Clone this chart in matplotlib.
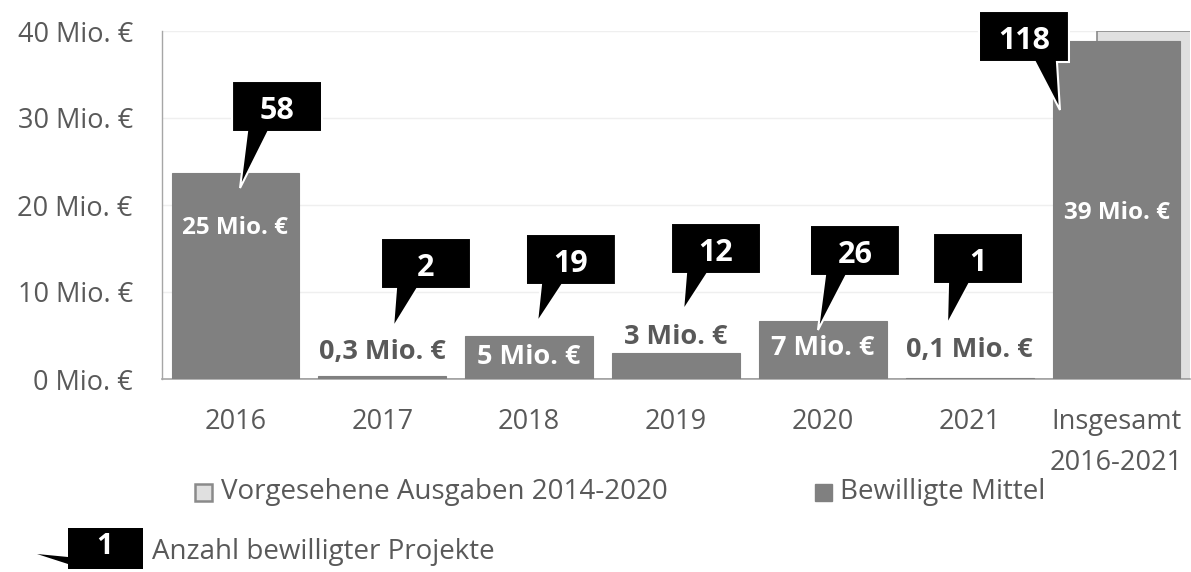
import matplotlib
matplotlib.use("Agg")
import matplotlib.pyplot as plt
from matplotlib.patches import Polygon, Rectangle

plt.rcParams['font.family'] = ['Open Sans', 'DejaVu Sans']

categories = ["2016", "2017", "2018", "2019", "2020", "2021", "Insgesamt\n2016-2021"]
bewilligt = [23.7, 0.3, 4.9, 3.0, 6.7, 0.1, 38.9]
vorgesehen = [0, 0, 0, 0, 0, 0, 40.0]
value_labels = ["25 Mio. €", "0,3 Mio. €", "5 Mio. €", "3 Mio. €", "7 Mio. €", "0,1 Mio. €", "39 Mio. €"]
projekte = ["58", "2", "19", "12", "26", "1", "118"]
yticks = [0, 10, 20, 30, 40]
ytick_labels = ["0 Mio. €", "10 Mio. €", "20 Mio. €", "30 Mio. €", "40 Mio. €"]

W, H = 1191, 572
fig = plt.figure(figsize=(W / 100, H / 100), dpi=100)
L, R, T, B = 162, 1190, 31, 379
ax = fig.add_axes([L / W, 1 - B / H, (R - L) / W, (B - T) / H])

TXT = '#595959'
BAR = '#808080'
n = len(categories)
x = list(range(n))
bw = 0.87
ax.set_xlim(-0.5, n - 0.5)
ax.set_ylim(0, 40)
sx = n / (R - L)        # data units per px (x)
sy = 40 / (B - T)       # data units per px (y)

# planned expenditure (only for total), offset right
ax.bar([xi + 0.30 for xi in x], vorgesehen, width=bw, color='#e0e0e0',
       edgecolor='#8a8a8a', linewidth=1.2, zorder=2)
ax.bar(x, bewilligt, width=bw, color=BAR, edgecolor=BAR, linewidth=0.8, zorder=3)

ax.set_yticks(yticks)
ax.set_yticklabels(ytick_labels)
ax.set_xticks(x)
ax.set_xticklabels(categories, linespacing=1.6, va='top')
ax.tick_params(axis='both', length=0, colors=TXT, labelsize=19.5)
ax.tick_params(axis='y', pad=21)
ax.tick_params(axis='x', pad=21)
for lab in ax.get_yticklabels() + ax.get_xticklabels():
    lab.set_color(TXT)
ax.grid(axis='y', color='#efefef', linewidth=1, zorder=0)
ax.set_axisbelow(True)
for s in ['top', 'right']:
    ax.spines[s].set_visible(False)
ax.spines['left'].set_color('#a6a6a6')
ax.spines['bottom'].set_color('#a6a6a6')
ax.spines['left'].set_linewidth(1)
ax.spines['bottom'].set_linewidth(1.2)

# value labels
label_inside = [True, False, True, False, True, False, True]
label_y_px = [228, 352, 357, 337, 348, 350, 213]
label_size = [17.5, 19.5, 19.5, 19.5, 19.5, 19.5, 17.5]
for i in range(n):
    yv = (B - label_y_px[i]) * sy
    col = 'white' if label_inside[i] else TXT
    ax.text(x[i], yv, value_labels[i], ha='center', va='center', color=col,
            fontsize=label_size[i], fontweight='bold', zorder=6)

# callouts (px offsets relative to bar centre / px rows)
box_left_off = [-3.4, -1.3, -3.2, -5, -12.9, -36.7, -137.6]
box_top = [81, 238, 234, 223, 225, 233, 11]
tip_off = [4.6, 10.7, 7.8, 7, -4.9, -22.7, -56.6]
tip_y = [188, 328, 323, 311, 330, 325, 110]
BW_PX, BH_PX = 90, 51
for i in range(n):
    bl = x[i] + box_left_off[i] * sx
    br = bl + BW_PX * sx
    bt = (B - box_top[i]) * sy
    bb = (B - box_top[i] - BH_PX) * sy
    tx = x[i] + tip_off[i] * sx
    ty = (B - tip_y[i]) * sy
    if i == n - 1:
        pts = [(bl, bt), (br, bt), (br, bb), (br - 12 * sx, bb), (tx, ty),
               (br - 34 * sx, bb), (bl, bb)]
    else:
        pts = [(bl, bt), (br, bt), (br, bb), (bl + 36 * sx, bb), (tx, ty),
               (bl + 15 * sx, bb), (bl, bb)]
    ax.add_patch(Polygon(pts, closed=True, facecolor='black', edgecolor='white',
                         linewidth=1.5, zorder=7, clip_on=False))
    ax.text((bl + br) / 2, (bt + bb) / 2 - 1 * sy, projekte[i], ha='center', va='center_baseline',
            color='white', fontsize=22, fontweight='bold', zorder=8, clip_on=False)

# legend
def px2fig(px, py):
    return px / W, 1 - py / H

lx, ly = px2fig(195, 501)
fig.patches.append(Rectangle((lx, ly), 17 / W, 17 / H, transform=fig.transFigure,
                             facecolor='#e0e0e0', edgecolor='#8a8a8a', linewidth=1.8))
tx_, ty_ = px2fig(221, 492)
fig.text(tx_, ty_, "Vorgesehene Ausgaben 2014-2020", color=TXT, fontsize=20, va='center', ha='left')
lx, ly = px2fig(815, 501)
fig.patches.append(Rectangle((lx, ly), 17 / W, 17 / H, transform=fig.transFigure,
                             facecolor=BAR, edgecolor=BAR, linewidth=1))
tx_, ty_ = px2fig(840, 492)
fig.text(tx_, ty_, "Bewilligte Mittel", color=TXT, fontsize=20, va='center', ha='left')

# callout legend
pts = [(68, 528), (143, 528), (143, 569), (68, 569), (68, 564), (37, 554), (68, 557)]
fig.patches.append(Polygon([px2fig(a, b) for a, b in pts], closed=True,
                           transform=fig.transFigure, facecolor='black', edgecolor='none'))
fx, fy = px2fig(105, 547)
fig.text(fx, fy, "1", color='white', fontsize=21, fontweight='bold', ha='center', va='center')
fx, fy = px2fig(152, 552)
fig.text(fx, fy, "Anzahl bewilligter Projekte", color=TXT, fontsize=20, ha='left', va='center')

fig.savefig("out.png", dpi=100, facecolor='white')
